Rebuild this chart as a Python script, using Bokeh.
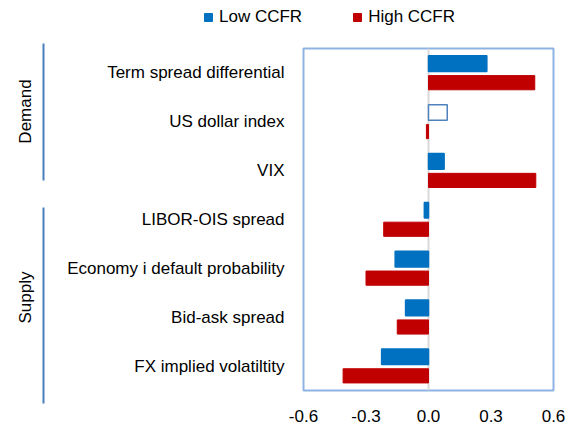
from math import pi
from bokeh.plotting import figure
from bokeh.models import (ColumnDataSource, FactorRange, Range1d, Legend, LegendItem,
                          Span, FixedTicker, NumeralTickFormatter)
from bokeh.transform import dodge
from bokeh.layouts import row, column
from bokeh.core.properties import value
from bokeh.embed import file_html
from bokeh.resources import INLINE

# ---- data ----
categories = ["Term spread differential", "US dollar index", "VIX",
              "LIBOR-OIS spread", "Economy i default probability",
              "Bid-ask spread", "FX implied volatiltity"]
low_ccfr = [0.28, 0.09, 0.075, -0.02, -0.16, -0.11, -0.225]
high_ccfr = [0.51, -0.01, 0.515, -0.215, -0.30, -0.15, -0.41]
hollow_category = "US dollar index"   # insignificant estimate, drawn hollow
groups = ["Demand", "Supply"]
series_names = ["Low CCFR", "High CCFR"]
x_ticks = [-0.6, -0.3, 0.0, 0.3, 0.6]

FONT = "Liberation Sans"
FS = "17px"
BLUE = "#0070c0"
RED = "#c00000"
TOP_H = 38
MAIN_H = 386

low_fill = ["white" if c == hollow_category else BLUE for c in categories]
low_line = ["#4f81bd" if c == hollow_category else BLUE for c in categories]

src = ColumnDataSource(dict(cat=categories, low=low_ccfr, high=high_ccfr,
                            low_fill=low_fill, low_line=low_line))

# ---- legend strip (top) ----
top = figure(width=568, height=TOP_H, x_range=Range1d(0, 1), y_range=Range1d(0, 1),
             min_border=0, toolbar_location=None, output_backend="svg")
top.frame_align = False
top.axis.visible = False
top.grid.visible = False
top.outline_line_color = None
# legend-key renderers (kept outside the visible range)
key_src = ColumnDataSource(dict(y=[-5], right=[0]))
k_low = top.hbar(y="y", left=0, right="right", height=0.1, fill_color=BLUE,
                 line_color=BLUE, source=key_src)
k_high = top.hbar(y="y", left=0, right="right", height=0.1, fill_color=RED,
                  line_color=RED, source=key_src)
legend = Legend(items=[LegendItem(label=series_names[0], renderers=[k_low]),
                       LegendItem(label=series_names[1], renderers=[k_high])],
                orientation="horizontal", location=(203, 11),
                glyph_width=10, glyph_height=10, label_standoff=6, spacing=50,
                padding=0, margin=0, border_line_color=None,
                background_fill_alpha=0,
                label_text_font=FONT, label_text_font_size=FS,
                label_text_color="#000000")
top.add_layout(legend)

# ---- main chart ----
p = figure(width=515, height=MAIN_H, x_range=Range1d(-0.6, 0.6),
           y_range=FactorRange(factors=categories[::-1]),
           min_border_left=250, min_border_right=15, min_border_top=48 - TOP_H,
           min_border_bottom=0, toolbar_location=None, output_backend="svg")
p.frame_align = False
p.outline_line_color = "#8db3e2"
p.outline_line_width = 2
p.xgrid.visible = False
p.ygrid.visible = False

p.add_layout(Span(location=0, dimension="height", line_color="#d9d9d9",
                  line_width=2, level="underlay"))

r_low = p.hbar(y=dodge("cat", 0.19, range=p.y_range), left=0, right="low",
               height=0.32, fill_color="low_fill", line_color="low_line",
               line_width=1.5, source=src)
r_high = p.hbar(y=dodge("cat", -0.2, range=p.y_range), left=0, right="high",
                height=0.29, fill_color=RED, line_color=RED, source=src)

for ax in (p.xaxis[0], p.yaxis[0]):
    ax.axis_line_color = None
    ax.major_tick_line_color = None
    ax.minor_tick_line_color = None
    ax.major_label_text_font = FONT
    ax.major_label_text_font_size = FS
    ax.major_label_text_color = "#000000"
p.yaxis.major_label_standoff = 13
p.xaxis.major_label_standoff = 13
p.xaxis.ticker = FixedTicker(ticks=x_ticks)
p.xaxis.formatter = NumeralTickFormatter(format="0.0")

# ---- group labels (left) ----
g = figure(width=53, height=MAIN_H, x_range=Range1d(0, 53),
           y_range=Range1d(TOP_H + MAIN_H, TOP_H),
           min_border=0, toolbar_location=None, output_backend="svg")
g.frame_align = False
g.axis.visible = False
g.grid.visible = False
g.outline_line_color = None
g.text(x=[25, 25], y=[111, 297], text=groups, angle=pi / 2,
       text_align="center", text_baseline="middle",
       text_font=value(FONT), text_font_size=FS, text_color="#000000")
g.segment(x0=[43, 43], y0=[43, 207], x1=[43, 43], y1=[180, 403],
          line_color="#4a7ebb", line_width=2)

layout = column(top, row(g, p))
open("out.html", "w").write(file_html(layout, INLINE))
